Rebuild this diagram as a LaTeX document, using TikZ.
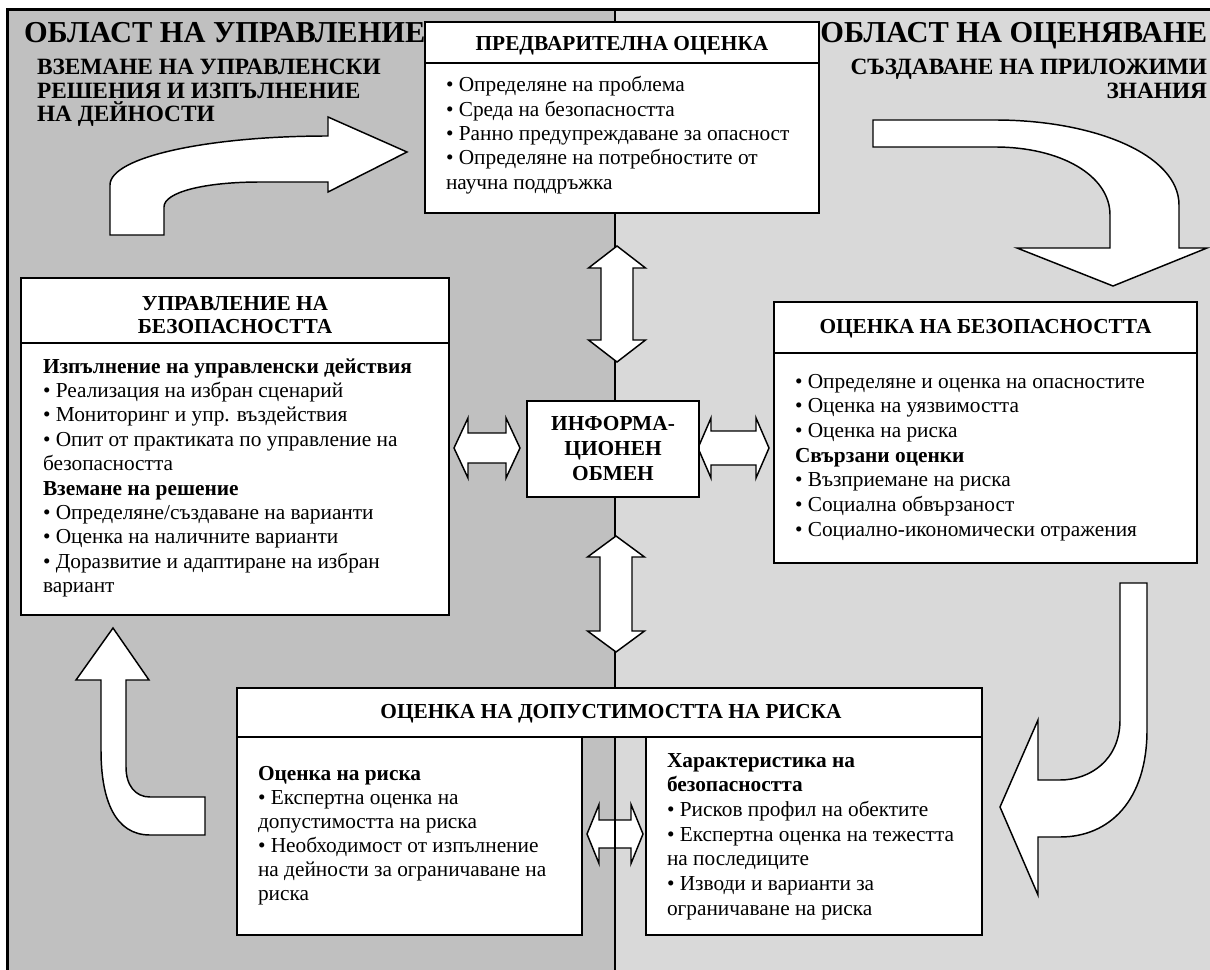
\documentclass[tikz,border=0pt]{standalone}
\usepackage{fontspec}
\setmainfont{Liberation Serif}
\definecolor{leftgray}{RGB}{192,192,192}
\definecolor{rightgray}{RGB}{217,217,217}
\tikzset{
  px/.style={x=0.75pt,y=-0.75pt},
  boxline/.style={draw=black, line width=1.5pt, fill=white},
  sepline/.style={draw=black, line width=1.5pt},
  blockarrow/.style={draw=black, line width=1.1pt, fill=white, line join=miter},
  divline/.style={draw=black, line width=1.5pt},
  txt/.style={inner sep=0pt, outer sep=0pt},
}
\newcommand{\bodyfont}{\fontsize{16pt}{18.2pt}\selectfont}
\newcommand{\hdrfont}{\fontsize{16pt}{17.3pt}\selectfont\bfseries}
\newcommand{\titlefont}{\fontsize{22.8pt}{26pt}\selectfont\bfseries}
\newcommand{\subfont}{\fontsize{17.5pt}{17.3pt}\selectfont\bfseries}
\newcommand{\leftlines}[2]{\begin{minipage}[t]{#1}\raggedright #2\end{minipage}}
\newcommand{\centerlines}[2]{\begin{minipage}[t]{#1}\centering #2\end{minipage}}
\newcommand{\rightlines}[2]{\begin{minipage}[t]{#1}\raggedleft #2\end{minipage}}
% vertical double block arrow: cx, ytop, ybot, head half, shaft half, head length
\newcommand{\vdblarrow}[6]{%
  \draw[blockarrow] (#1,#2) -- ({#1+#4},{#2+#6}) -- ({#1+#5},{#2+#6}) -- ({#1+#5},{#3-#6})
    -- ({#1+#4},{#3-#6}) -- (#1,#3) -- ({#1-#4},{#3-#6}) -- ({#1-#5},{#3-#6})
    -- ({#1-#5},{#2+#6}) -- ({#1-#4},{#2+#6}) -- cycle;}
% horizontal double block arrow: cy, xleft, xright, head half, shaft half, head length
\newcommand{\hdblarrow}[6]{%
  \draw[blockarrow] (#2,#1) -- ({#2+#6},{#1-#4}) -- ({#2+#6},{#1-#5}) -- ({#3-#6},{#1-#5})
    -- ({#3-#6},{#1-#4}) -- (#3,#1) -- ({#3-#6},{#1+#4}) -- ({#3-#6},{#1+#5})
    -- ({#2+#6},{#1+#5}) -- ({#2+#6},{#1+#4}) -- cycle;}
\begin{document}
\begin{tikzpicture}[px]
\useasboundingbox (0,0) rectangle (1210,970);
\fill[white] (0,0) rectangle (1210,970);
\fill[leftgray] (8,9) rectangle (614.5,970);
\fill[rightgray] (614.5,9) rectangle (1210,970);
\draw[line width=2.2pt] (7.5,970) -- (7.5,9.5) -- (1210,9.5);
\draw[divline] (614.5,9) -- (614.5,970);

% titles
\node[txt, anchor=base west, font=\titlefont] (titleL) at (24,43) {ОБЛАСТ НА УПРАВЛЕНИЕ};
\node[txt, anchor=base west] (subL) at (37,75) {\leftlines{300pt}{\subfont ВЗЕМАНЕ НА УПРАВЛЕНСКИ\\ РЕШЕНИЯ И ИЗПЪЛНЕНИЕ\\ НА ДЕЙНОСТИ}};
\node[txt, anchor=base east, font=\titlefont] (titleR) at (1207,43) {ОБЛАСТ НА ОЦЕНЯВАНЕ};
\node[txt, anchor=base east] (subR) at (1207,75) {\rightlines{300pt}{\subfont СЪЗДАВАНЕ НА ПРИЛОЖИМИ\\ ЗНАНИЯ}};

% curved block arrows
\draw[blockarrow] (110,235) -- (110,185) .. controls (110,157) and (208,136) .. (328,136)
  -- (328,117) -- (407,152) -- (328,192) -- (328,182) -- (260,182)
  .. controls (205,182) and (164,192) .. (164,207) -- (164,235) -- cycle;
\draw[blockarrow] (873,120) -- (995,120) .. controls (1095,120) and (1179,155) .. (1179,205)
  -- (1179,248) -- (1207,248) -- (1113,286) -- (1017,248) -- (1110,248) -- (1110,215)
  .. controls (1110,175) and (1060,147) .. (995,147) -- (873,147) -- cycle;
\draw[blockarrow] (1120,583) -- (1147,583) -- (1147,730) .. controls (1147,800) and (1110,837) .. (1060,837)
  -- (1038,837) -- (1038,895) -- (1000,807) -- (1038,720) -- (1038,780) -- (1060,780)
  .. controls (1090,780) and (1120,760) .. (1120,720) -- cycle;
\draw[blockarrow] (205,835) -- (150,835) .. controls (115,835) and (101,800) .. (101,750)
  -- (101,680) -- (76,680) -- (113,628) -- (149,680) -- (126,680) -- (126,767)
  .. controls (126,785) and (135,797) .. (150,797) -- (205,797) -- cycle;

% vertical double arrows
\vdblarrow{617}{246}{362}{28.5}{16}{22}
\vdblarrow{616}{536}{652}{28.5}{16}{21}
% horizontal double arrows
\hdblarrow{448}{454}{520}{30}{15}{14}
\hdblarrow{448}{698}{769}{30}{17}{13}

% top box
\draw[boxline] (425,22) rectangle (819,213);
\draw[sepline] (425,63) -- (819,63);
\node[txt, anchor=base, font=\hdrfont] (preH) at (622,51) {ПРЕДВАРИТЕЛНА ОЦЕНКА};
\node[txt, anchor=base west] (preB) at (446,92) {\leftlines{360pt}{\bodyfont
• Определяне на проблема\\
• Среда на безопасността\\
• Ранно предупреждаване за опасност\\
• Определяне на потребностите от\\
научна поддръжка}};

% left box
\draw[boxline] (21,278) rectangle (449,615);
\draw[sepline] (21,343) -- (449,343);
\node[txt, anchor=base] (mgmtH) at (235,310) {\centerlines{300pt}{\hdrfont УПРАВЛЕНИЕ НА\\ БЕЗОПАСНОСТТА}};
\node[txt, anchor=base west] (mgmtB) at (43,373) {\leftlines{380pt}{\fontsize{16pt}{18.3pt}\selectfont
{\bfseries Изпълнение на управленски действия}\\
• Реализация на избран сценарий\\
• Мониторинг и упр. въздействия\\
• Опит от практиката по управление на\\
безопасността\\
{\bfseries Вземане на решение}\\
• Определяне/създаване на варианти\\
• Оценка на наличните варианти\\
• Доразвитие и адаптиране на избран\\
вариант}};

% right box
\draw[boxline] (774,302) rectangle (1197,563);
\draw[sepline] (774,353) -- (1197,353);
\node[txt, anchor=base, font=\hdrfont] (assH) at (985.5,333) {ОЦЕНКА НА БЕЗОПАСНОСТТА};
\node[txt, anchor=base west] (assB) at (795,388) {\leftlines{380pt}{\fontsize{16pt}{18.5pt}\selectfont
• Определяне и оценка на опасностите\\
• Оценка на уязвимостта\\
• Оценка на риска\\
{\bfseries Свързани оценки}\\
• Възприемане на риска\\
• Социална обвързаност\\
• Социално-икономически отражения}};

% info box
\draw[boxline] (527,401) rectangle (699,497);
\node[txt, anchor=base] (info) at (613,430) {\centerlines{150pt}{\fontsize{16pt}{18.75pt}\selectfont\bfseries ИНФОРМА-\\ ЦИОНЕН\\ ОБМЕН}};

% bottom boxes
\draw[boxline] (237,688) rectangle (982,737);
\node[txt, anchor=base, font=\hdrfont] (tolH) at (611,718) {ОЦЕНКА НА ДОПУСТИМОСТТА НА РИСКА};
\draw[boxline] (237,737) rectangle (582,935);
\draw[boxline] (646,737) rectangle (982,935);
\node[txt, anchor=base west] (tolL) at (258,780) {\leftlines{300pt}{\fontsize{16pt}{18pt}\selectfont
{\bfseries Оценка на риска}\\
• Експертна оценка на\\
допустимостта на риска\\
• Необходимост от изпълнение\\
на дейности за ограничаване на\\
риска}};
\node[txt, anchor=base west] (tolR) at (667,767) {\leftlines{300pt}{\fontsize{16pt}{18.5pt}\selectfont
{\bfseries Характеристика на}\\
{\bfseries безопасността}\\
• Рисков профил на обектите\\
• Експертна оценка на тежестта\\
на последиците\\
• Изводи и варианти за\\
ограничаване на риска}};

% bottom horizontal double arrow with divider over it
\hdblarrow{834}{587}{643}{29.5}{14}{12}
\draw[divline] (614.5,737) -- (614.5,970);
\end{tikzpicture}
\end{document}
